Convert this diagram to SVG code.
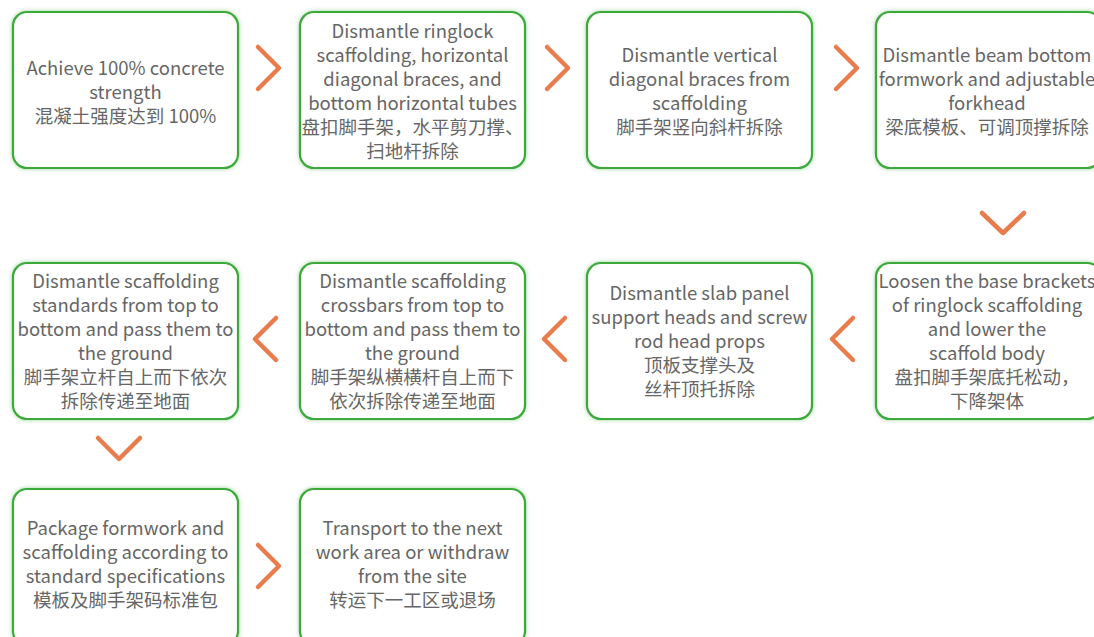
<svg xmlns="http://www.w3.org/2000/svg" width="1094" height="637" viewBox="0 0 1094 637">
<defs>
<filter id="glow" x="-10%" y="-10%" width="120%" height="120%">
<feDropShadow dx="0" dy="0" stdDeviation="2" flood-color="#4caf50" flood-opacity="0.55"/>
</filter>
</defs>
<style>
.box{fill:#fff;stroke:#3aaa3a;stroke-width:2.2;filter:url(#glow)}
.t{font-family:"Noto Sans CJK SC","Noto Sans",sans-serif;font-size:18.5px;fill:#666;text-anchor:middle;dominant-baseline:central}
.chev{fill:none;stroke:#e87c4c;stroke-width:4.5;stroke-linecap:round;stroke-linejoin:round}
</style>
<rect width="1094" height="637" fill="#fff"/>
<g id="connectors">
<polyline class="chev" points="258,47 279,68 258,89"/>
<polyline class="chev" points="547,47 568,68 547,89"/>
<polyline class="chev" points="836,47 857,68 836,89"/>
<polyline class="chev" points="982,213 1003,233 1024,213"/>
<polyline class="chev" points="853,318 832,339 853,360"/>
<polyline class="chev" points="565,318 544,339 565,360"/>
<polyline class="chev" points="276,318 255,339 276,360"/>
<polyline class="chev" points="98,438 119,459 140,438"/>
<polyline class="chev" points="258,545 279,566 258,587"/>
</g>
<g id="n1"><rect class="box" x="13" y="12" width="225" height="156" rx="14"/>
<text class="t" x="125.5" y="67">Achieve 100% concrete</text><text class="t" x="125.5" y="91">strength</text><text class="t" x="125.5" y="115">混凝土强度达到 100%</text></g>
<g id="n2"><rect class="box" x="300" y="12" width="225" height="156" rx="14"/>
<text class="t" x="412.5" y="30">Dismantle ringlock</text><text class="t" x="412.5" y="54">scaffolding, horizontal</text><text class="t" x="412.5" y="78">diagonal braces, and</text><text class="t" x="412.5" y="102">bottom horizontal tubes</text><text class="t" x="412.5" y="126">盘扣脚手架，水平剪刀撑、</text><text class="t" x="412.5" y="150">扫地杆拆除</text></g>
<g id="n3"><rect class="box" x="587" y="12" width="225" height="156" rx="14"/>
<text class="t" x="699.5" y="54">Dismantle vertical</text><text class="t" x="699.5" y="78">diagonal braces from</text><text class="t" x="699.5" y="102">scaffolding</text><text class="t" x="699.5" y="126">脚手架竖向斜杆拆除</text></g>
<g id="n4"><rect class="box" x="876" y="12" width="225" height="156" rx="14"/>
<text class="t" x="987" y="54">Dismantle beam bottom</text><text class="t" x="987" y="78">formwork and adjustable</text><text class="t" x="987" y="102">forkhead</text><text class="t" x="987" y="126">梁底模板、可调顶撑拆除</text></g>
<g id="n5"><rect class="box" x="876" y="263" width="225" height="156" rx="14"/>
<text class="t" x="987" y="280">Loosen the base brackets</text><text class="t" x="987" y="304">of ringlock scaffolding</text><text class="t" x="987" y="328">and lower the</text><text class="t" x="987" y="352">scaffold body</text><text class="t" x="987" y="376">盘扣脚手架底托松动，</text><text class="t" x="987" y="400">下降架体</text></g>
<g id="n6"><rect class="box" x="587" y="263" width="225" height="156" rx="14"/>
<text class="t" x="699.5" y="292">Dismantle slab panel</text><text class="t" x="699.5" y="316">support heads and screw</text><text class="t" x="699.5" y="340">rod head props</text><text class="t" x="699.5" y="364">顶板支撑头及</text><text class="t" x="699.5" y="388">丝杆顶托拆除</text></g>
<g id="n7"><rect class="box" x="300" y="263" width="225" height="156" rx="14"/>
<text class="t" x="412.5" y="280">Dismantle scaffolding</text><text class="t" x="412.5" y="304">crossbars from top to</text><text class="t" x="412.5" y="328">bottom and pass them to</text><text class="t" x="412.5" y="352">the ground</text><text class="t" x="412.5" y="376">脚手架纵横横杆自上而下</text><text class="t" x="412.5" y="400">依次拆除传递至地面</text></g>
<g id="n8"><rect class="box" x="13" y="263" width="225" height="156" rx="14"/>
<text class="t" x="125.5" y="280">Dismantle scaffolding</text><text class="t" x="125.5" y="304">standards from top to</text><text class="t" x="125.5" y="328">bottom and pass them to</text><text class="t" x="125.5" y="352">the ground</text><text class="t" x="125.5" y="376">脚手架立杆自上而下依次</text><text class="t" x="125.5" y="400">拆除传递至地面</text></g>
<g id="n9"><rect class="box" x="13" y="489" width="225" height="156" rx="14"/>
<text class="t" x="125.5" y="527">Package formwork and</text><text class="t" x="125.5" y="551">scaffolding according to</text><text class="t" x="125.5" y="575">standard specifications</text><text class="t" x="125.5" y="599">模板及脚手架码标准包</text></g>
<g id="n10"><rect class="box" x="300" y="489" width="225" height="156" rx="14"/>
<text class="t" x="412.5" y="527">Transport to the next</text><text class="t" x="412.5" y="551">work area or withdraw</text><text class="t" x="412.5" y="575">from the site</text><text class="t" x="412.5" y="599">转运下一工区或退场</text></g>
</svg>
